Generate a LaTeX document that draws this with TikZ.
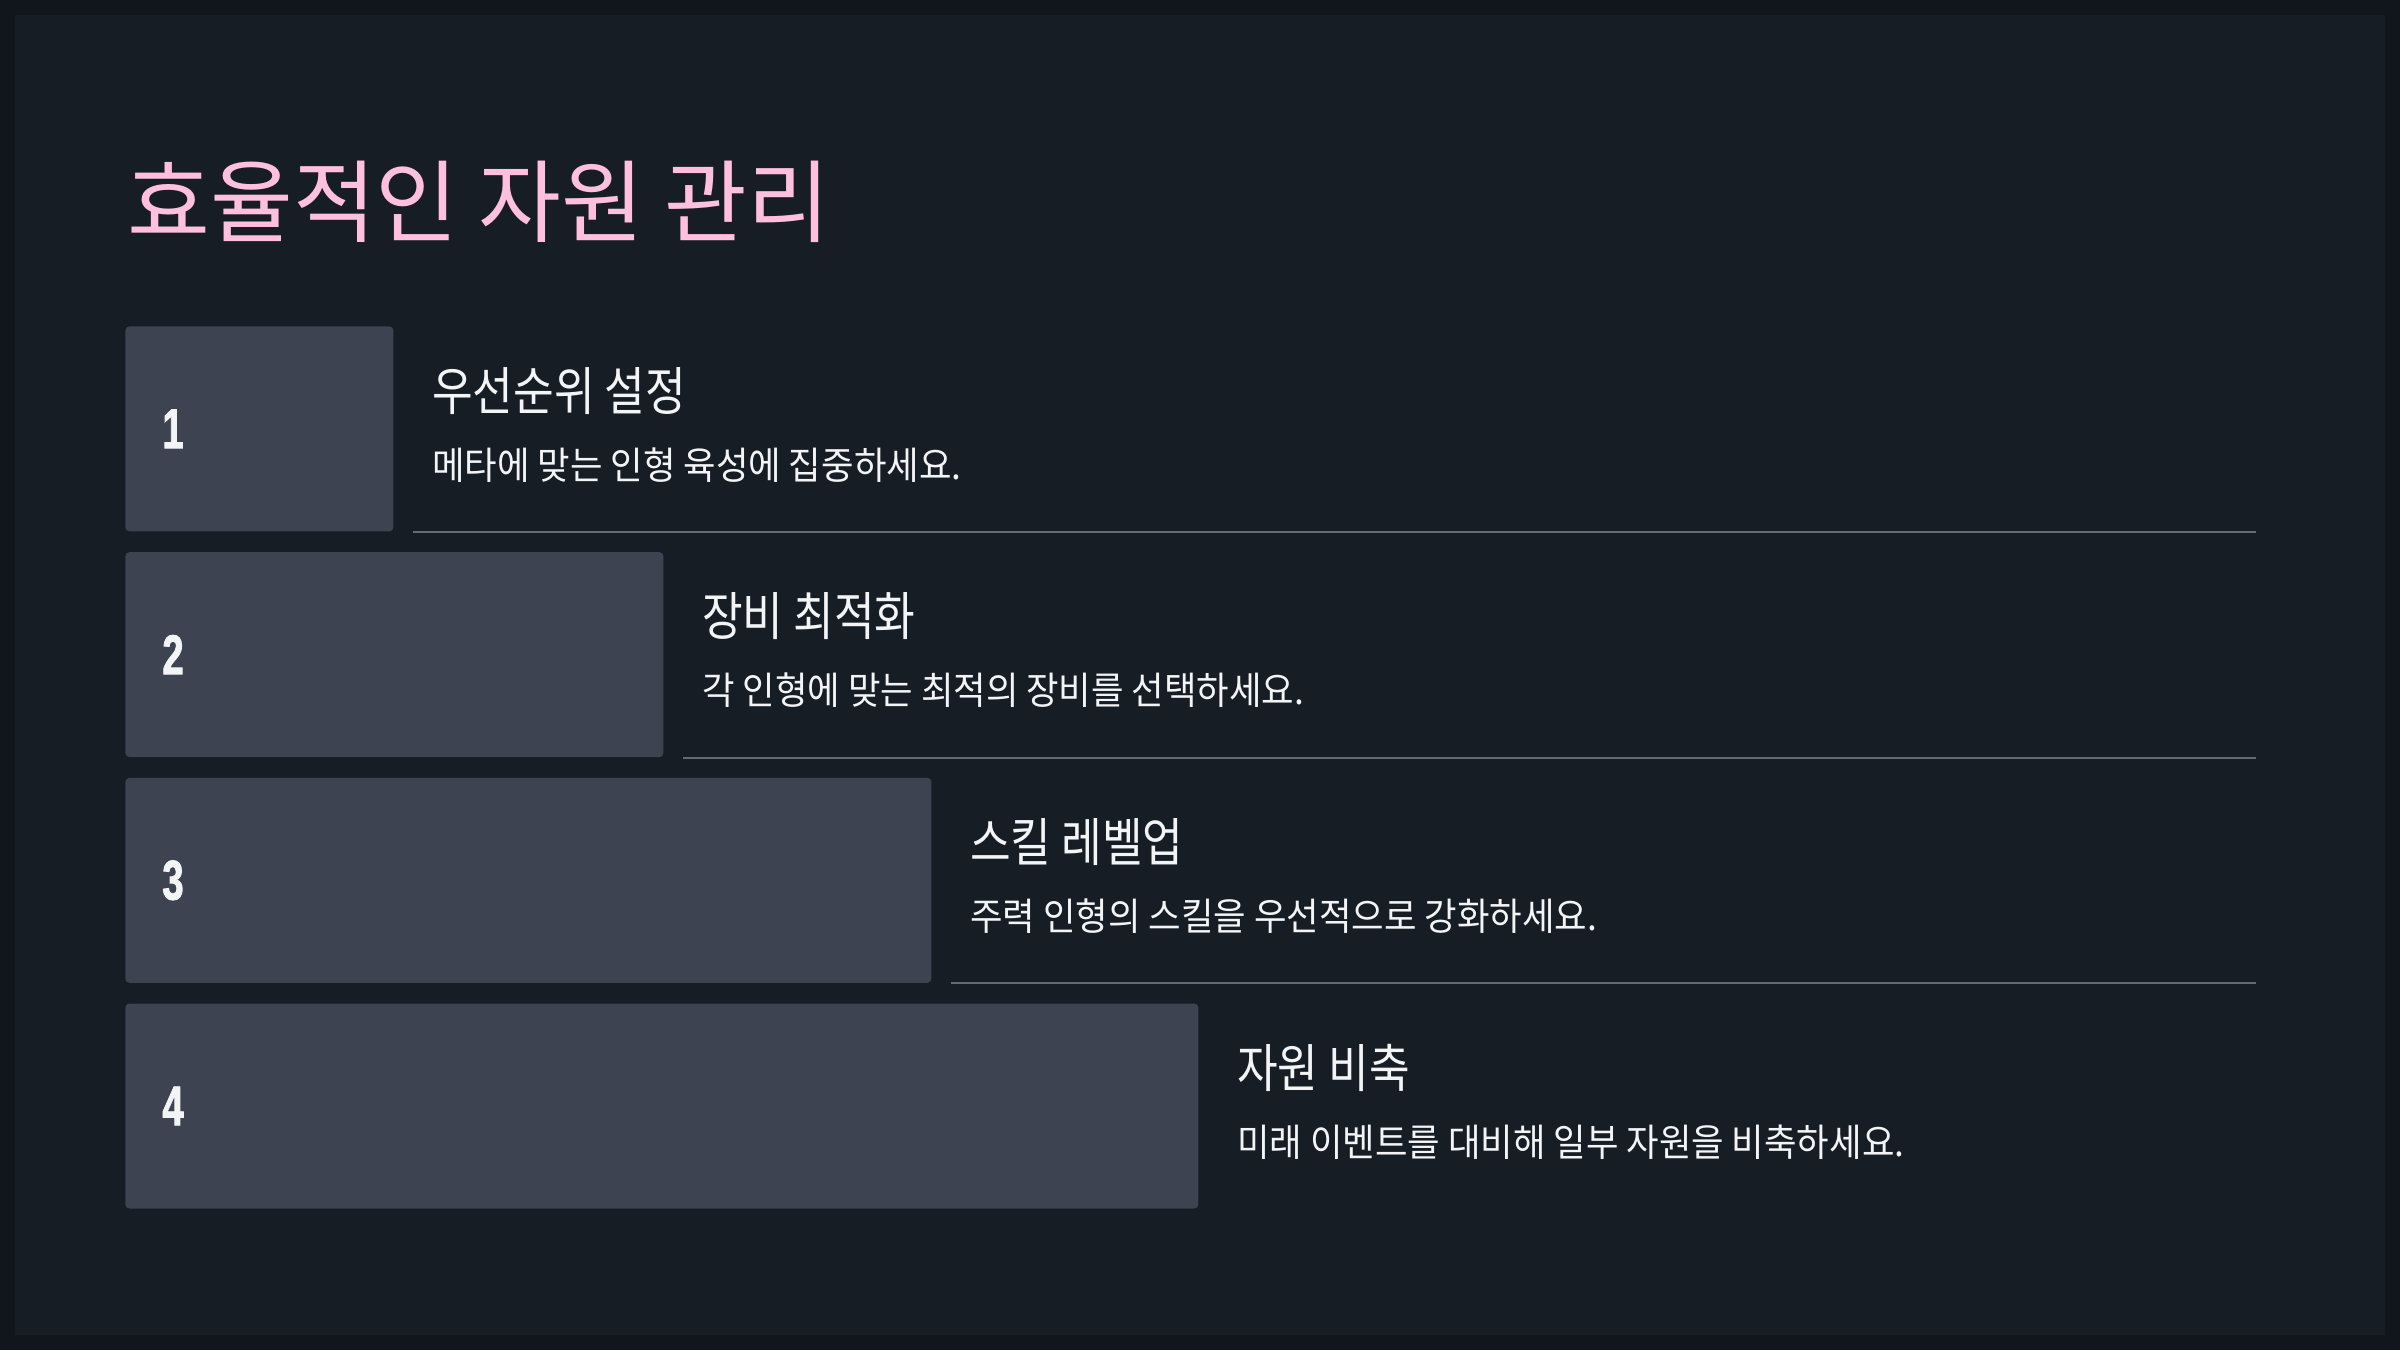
\documentclass[tikz,border=0pt]{standalone}
\usepackage{fontspec}
\usepackage{xcolor}
\usepackage{tikz}
\usetikzlibrary{positioning}

\newfontfamily\titlefont{Noto Sans CJK KR}
\newfontfamily\headfont[FakeStretch=0.85]{Noto Sans CJK KR}
\newfontfamily\descfont[FakeStretch=0.93]{Noto Sans CJK KR}
\newfontfamily\numfont[FakeStretch=0.68,FakeBold=1.6]{Liberation Sans Bold}

\definecolor{pageouter}{HTML}{11161D}
\definecolor{pagebg}{HTML}{171D25}
\definecolor{boxfill}{HTML}{3D4350}
\definecolor{sepgray}{HTML}{646A75}
\definecolor{titlepink}{HTML}{FFC0E0}
\definecolor{textwhite}{HTML}{F3F4F6}

\tikzset{
  titletext/.style={anchor=base west,inner sep=0pt,text=titlepink,font=\titlefont\fontsize{45}{50}\selectfont},
  numbox/.style={anchor=north west,fill=boxfill,rounded corners=2pt,minimum height=102.5pt,inner sep=0pt},
  numtext/.style={anchor=west,inner sep=0pt,text=textwhite,font=\numfont\fontsize{28}{30}\selectfont},
  headtext/.style={anchor=base west,inner sep=0pt,text=textwhite,font=\headfont\fontsize{26}{30}\selectfont},
  desctext/.style={anchor=base west,inner sep=0pt,text=textwhite,font=\descfont\fontsize{19}{22}\selectfont},
  sepline/.style={draw=sepgray,line width=1pt}
}

\begin{document}
\begin{tikzpicture}[x=0.5pt,y=-0.5pt]
  \fill[pageouter] (0,0) rectangle (2400,1350);
  \fill[pagebg] (15,15) rectangle (2385,1335);
  \useasboundingbox (0,0) rectangle (2400,1350);

  \node[titletext] (title) at (127,235) {효율적인 자원 관리};
  \coordinate (lineend) at (2256,0);

  % steps, one box wider each row
  \foreach \i/\w/\head/\desc in {%
      1/134/우선순위 설정/메타에 맞는 인형 육성에 집중하세요.,
      2/269/장비 최적화/각 인형에 맞는 최적의 장비를 선택하세요.,
      3/403/스킬 레벨업/주력 인형의 스킬을 우선적으로 강화하세요.,
      4/536.5/자원 비축/미래 이벤트를 대비해 일부 자원을 비축하세요.}{
    \node[numbox,minimum width=\w pt] (box\i) at (125,{326+(\i-1)*225.7}) {};
    \node[numtext] (num\i) at ([xshift=18.5pt]box\i.west) {\i};
    \node[headtext] (head\i) at ([shift={(19pt,-42pt)}]box\i.north east) {\head};
    \node[desctext] (desc\i) at ([shift={(19pt,-76.5pt)}]box\i.north east) {\desc};
    \ifnum\i<4
      \draw[sepline] ([xshift=9.5pt]box\i.south east) -- (box\i.south east -| lineend);
    \fi
  }
\end{tikzpicture}
\end{document}
